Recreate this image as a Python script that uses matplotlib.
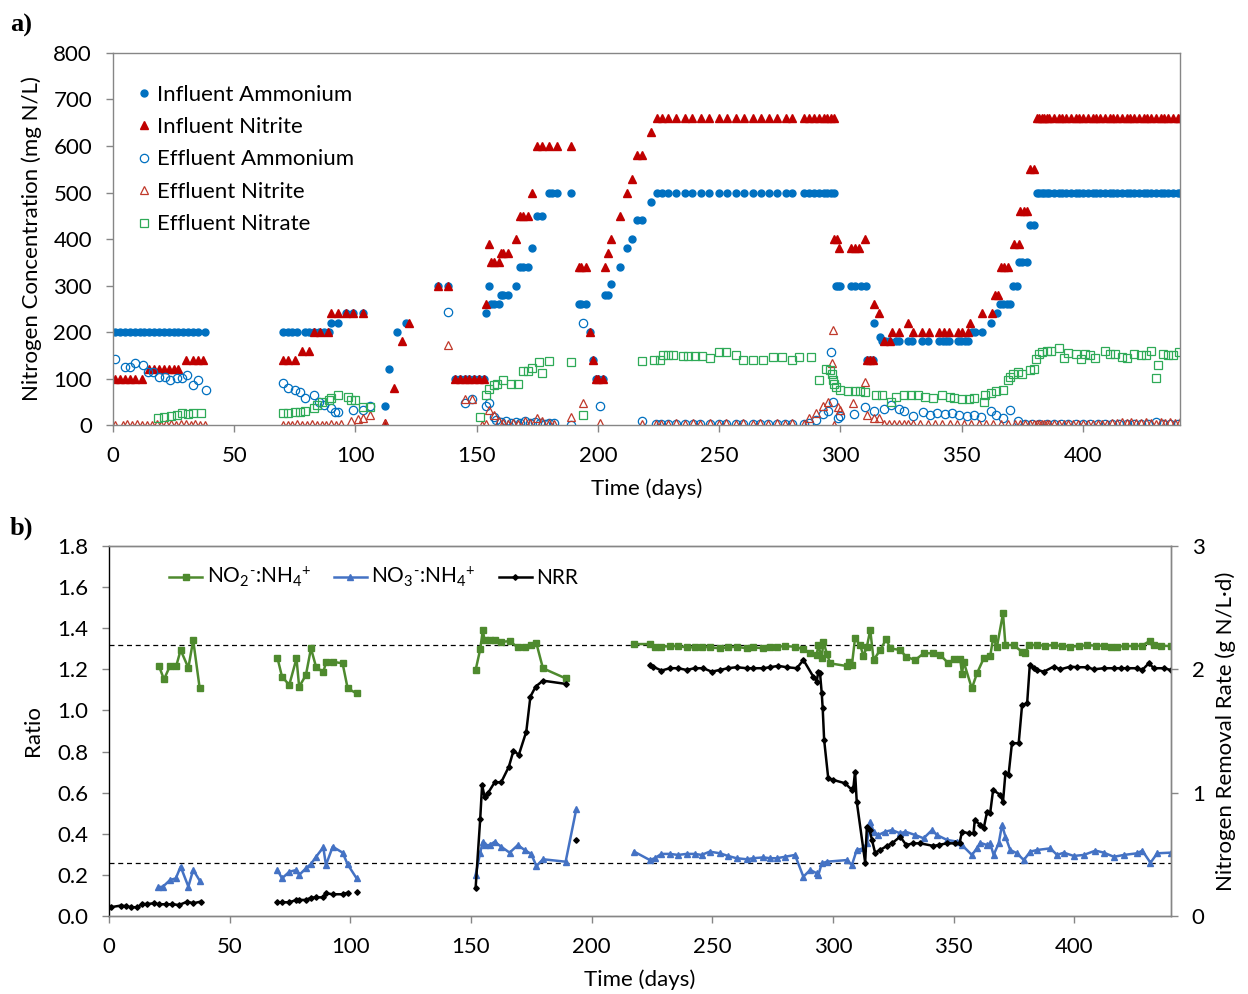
import numpy as np
import matplotlib
matplotlib.use("Agg")
import matplotlib.pyplot as plt
from matplotlib import rcParams

rcParams['font.family'] = ['Lato', 'DejaVu Sans']
rcParams['mathtext.fontset'] = 'custom'
rcParams['mathtext.rm'] = 'Lato'
rcParams['mathtext.it'] = 'Lato:italic'
rcParams['mathtext.bf'] = 'Lato:bold'
rcParams['axes.unicode_minus'] = False

# ---- panel a : concentrations (mg N/L) ----
inf_amm_days = [1, 3, 5, 7, 9, 11, 13, 15, 17, 19, 21, 23, 25, 27, 29, 31, 33, 35, 38,
                70, 72, 74, 76, 79, 81, 83, 85, 87, 89, 90, 93, 96, 99, 103,
                112, 114, 117, 121, 134, 138, 141, 143, 145, 147, 149, 151, 153,
                154, 155, 156, 157, 159, 160, 161, 163, 166, 168, 169, 171, 173, 175, 177, 180, 181, 183, 189,
                192, 193, 195, 196.6, 198, 199, 200, 202, 203, 204, 205.5, 209, 212, 214, 216, 218, 222,
                224.4, 226.5, 228.8, 232, 236, 238.9, 242.3, 245.8, 249.9, 253.3, 256.8, 260.2, 264.1,
                267.1, 270.5, 274, 277.4, 280.1, 284.9, 287, 289, 291.1, 293.2, 294.6, 296, 297.3,
                298, 299, 300, 304.2, 306, 308.3, 310.4, 311, 312, 313.5, 314, 316.5, 317, 318.5, 320,
                322.8, 324.2, 327.9, 329.7, 333.8, 335.9, 340.7, 342.1, 343.4, 344.8, 348.3, 349.6, 351.3, 352.4,
                354.2, 355.5, 358.3, 362, 364.5, 365.7, 367, 368.5, 370, 371, 372.7, 373.5, 375, 377, 378, 380,
                381, 382, 383, 384, 385, 386, 388, 390, 391.5, 393, 395, 397, 398.5, 400,
                402, 404, 405.5, 407, 409, 411, 412.5, 414, 416, 418, 419.5, 421, 423, 425, 426.5, 428,
                430, 432, 433.5, 435, 437, 439, 440]
inf_amm = [200, 200, 200, 200, 200, 200, 200, 200, 200, 200, 200, 200, 200, 200, 200, 200, 200, 200, 200,
           200, 200, 200, 200, 200, 200, 200, 200, 200, 200, 220, 220, 240, 240, 240,
           40, 120, 200, 220, 300, 300, 100, 100, 100, 100, 100, 100, 100,
           240, 300, 260, 260, 260, 280, 280, 280, 300, 340, 340, 340, 380, 450, 450, 500, 500, 500, 500,
           260, 260, 260, 200, 140, 100, 100, 100, 280, 280, 303, 340, 380, 400, 440, 440, 480,
           500, 500, 500, 500, 500, 500, 500, 500, 500, 500, 500, 500, 500,
           500, 500, 500, 500, 500, 500, 500, 500, 500, 500, 500, 500, 500,
           300, 300, 300, 300, 300, 300, 300, 140, 140, 140, 220, 190, 180, 180, 180,
           180, 180, 180, 180, 180, 180, 180, 180, 180, 180, 180, 180, 180, 180,
           200, 200, 200, 220, 240, 260, 260, 260, 260, 300, 300, 350, 350, 350, 430, 430,
           500, 500, 500, 500, 500, 500, 500, 500, 500, 500, 500, 500, 500, 500,
           500, 500, 500, 500, 500, 500, 500, 500, 500, 500, 500, 500, 500, 500, 500, 500,
           500, 500, 500, 500, 500, 500, 500]

inf_nit_days = [1, 3, 5, 7, 9, 12, 15, 17, 19, 21, 23, 25, 27, 30, 33, 35, 37,
                70, 72, 75, 78, 81, 83, 85.5, 88.5, 90, 93, 96, 99, 103,
                112, 116, 119, 122, 134, 138, 141, 143, 145, 147, 149, 151, 153,
                154, 155, 156, 157, 159, 160, 161, 163, 166, 168, 169, 171, 173, 175, 177, 180, 183, 189,
                192, 193, 195, 196.6, 198, 199, 200, 202, 203, 204, 205.5, 209, 212, 214, 216, 218, 222,
                224.4, 226.5, 228.8, 232, 236, 238.9, 242.3, 245.8, 249.9, 253.3, 256.8, 260.2, 264.1,
                267.1, 270.5, 274, 277.4, 280.1, 284.9, 287, 289, 291.1, 293.2, 294.6, 296, 297.3,
                297.5, 298.5, 299.5, 304.5, 306, 307.5, 310, 311, 312, 313.5, 314, 316, 318, 320.5,
                321.4, 324.2, 327.9, 330.1, 333.8, 336.6, 340.7, 342.8, 344.8, 348.3, 350.3, 352.4, 353.5,
                358.3, 362.4, 363.7, 365, 366, 367.5, 369, 371.5, 373.5, 374, 375.5, 377, 378, 380,
                381, 382, 383, 384, 385, 386, 388, 390, 391.5, 393, 395, 397, 398.5, 400,
                402, 404, 405.5, 407, 409, 411, 412.5, 414, 416, 418, 419.5, 421, 423, 425, 426.5, 428,
                430, 432, 433.5, 435, 437, 439, 440]
inf_nit = [100, 100, 100, 100, 100, 100, 120, 120, 120, 120, 120, 120, 120, 140, 140, 140, 140,
           140, 140, 140, 160, 160, 200, 200, 200, 240, 240, 240, 240, 240,
           4, 80, 180, 220, 300, 300, 100, 100, 100, 100, 100, 100, 100,
           260, 390, 350, 350, 350, 370, 370, 370, 400, 450, 450, 450, 500, 600, 600, 600, 600, 600,
           340, 340, 340, 200, 140, 100, 100, 100, 340, 370, 400, 450, 500, 530, 580, 580, 630,
           660, 660, 660, 660, 660, 660, 660, 660, 660, 660, 660, 660, 660,
           660, 660, 660, 660, 660, 660, 660, 660, 660, 660, 660, 660, 660,
           400, 400, 380, 380, 380, 380, 400, 140, 140, 140, 260, 240, 180, 180,
           200, 200, 220, 200, 200, 200, 200, 200, 200, 200, 200, 200, 220,
           240, 240, 280, 280, 340, 340, 340, 390, 390, 460, 460, 460, 550, 550,
           660, 660, 660, 660, 660, 660, 660, 660, 660, 660, 660, 660, 660, 660,
           660, 660, 660, 660, 660, 660, 660, 660, 660, 660, 660, 660, 660, 660, 660, 660,
           660, 660, 660, 660, 660, 660, 660]

eff_amm_days = [1, 5, 7, 9, 12.4, 14.4, 16.5, 19, 21.5, 23.5, 26.4, 28.5, 30.5, 33, 35, 38.4,
                70, 72, 75, 77, 79, 83, 85, 87, 90, 91.5, 93, 99, 103, 106,
                138, 145, 148, 154, 155, 157, 158, 160, 162, 164, 166, 168, 170, 172, 174, 176, 178, 180, 182,
                189, 194, 201, 218,
                224, 226, 229, 232, 236, 239, 242, 246, 250, 253, 257, 260, 264, 267, 270, 274, 277, 280,
                285, 287, 290, 293, 295, 296, 297, 299, 300,
                305.5, 310, 314, 318, 321, 324, 326, 330, 334, 337, 340, 343, 346, 349, 352, 355, 358,
                362, 364, 367, 370, 373,
                376, 379, 382, 385, 388, 391, 394, 397, 400, 403, 406, 409, 412, 415, 418, 421, 424,
                427, 430, 433, 436, 439]
eff_amm = [142, 125, 125, 133, 129, 114, 114, 103, 103, 97, 101, 101, 108, 86, 97, 75,
           90, 80, 75, 71, 58, 64, 49, 43, 36, 28, 28, 32, 32, 41,
           243, 47, 57, 41, 47, 17, 10, 6, 8, 5, 6, 4, 8, 5, 6, 4, 3, 5, 4,
           0, 220, 41, 8,
           3, 2, 3, 2, 3, 2, 3, 2, 3, 2, 3, 2, 3, 2, 3, 2, 3, 2,
           3, 5, 10, 23, 30, 158, 50, 15, 20,
           24, 38, 30, 35, 43, 35, 30, 20, 27, 22, 25, 23, 25, 22, 20, 22, 18,
           30, 22, 15, 33, 8,
           2, 2, 2, 2, 2, 2, 2, 2, 2, 2, 2, 2, 2, 2, 2, 2, 2,
           2, 6, 2, 2, 2]

eff_nit_days = [1, 4, 6, 8, 10, 12, 14, 16, 18, 20, 22, 24, 26, 28, 30, 32, 34, 36, 38,
                70, 72, 74, 76, 78, 80, 82, 84, 86, 88, 90, 92, 94, 98, 101, 103, 106,
                112, 138, 145, 148, 152, 154, 155, 157, 159, 161, 163, 165, 167, 170, 172, 175, 177, 180, 182,
                189, 194, 201, 218,
                224, 226, 229, 232, 236, 239, 242, 246, 250, 253, 257, 260, 264, 267, 270, 274, 277, 280,
                285, 287, 290, 293, 295, 296.5, 297, 297.5, 299, 300,
                305, 310, 311, 314, 316, 318, 320, 322, 324, 326, 328, 330,
                333, 336, 339, 342, 345, 348, 351, 354, 357, 360, 363, 366, 369, 372,
                374, 376, 378, 380, 381, 382, 383, 384, 385, 386,
                388, 390, 392, 394, 396, 398, 400, 402, 404, 406, 408, 410, 412, 414,
                416, 418, 420, 422, 424, 426, 428, 430, 432, 434, 436, 438, 440]
eff_nit = [0, 0, 2, 0, 3, 0, 0, 0, 3, 0, 2, 2, 0, 3, 2, 0, 2, 0, 0,
           0, 0, 0, 2, 0, 0, 2, 0, 0, 0, 2, 0, 2, 8, 12, 15, 22,
           2, 172, 57, 57, 0, 3, 32, 22, 8, 5, 3, 5, 3, 8, 5, 15, 8, 5, 3,
           17, 48, 5, 3,
           3, 2, 3, 4, 3, 4, 3, 4, 3, 4, 3, 5, 3, 4, 3, 4, 3, 4,
           3, 15, 25, 40, 50, 133, 205, 0, 38, 33,
           47, 93, 22, 15, 15, 2, 2, 3, 2, 2, 2, 3,
           2, 2, 3, 2, 2, 2, 3, 2, 2, 3, 2, 2, 3, 2,
           2, 3, 2, 2, 2, 2, 2, 2, 2, 2,
           2, 2, 2, 2, 2, 3, 2, 2, 2, 3, 2, 3, 5, 4,
           6, 5, 7, 5, 4, 6, 5, 3, 6, 4, 7, 5, 6]

eff_nitrate_days = [18.5, 21, 24, 26.5, 28.5, 31, 33, 36.5,
                    70, 72, 75, 77, 79, 83, 84, 86, 89, 90, 93, 97, 98, 100, 103, 106,
                    151.5, 154, 155, 157, 158.5, 161, 164, 167, 169, 171, 173, 175.5, 177, 180, 189, 194,
                    218, 223, 225.5, 227, 229, 231, 235, 237, 240, 243, 246, 250, 253, 257, 260, 264, 268,
                    272, 276, 280, 283, 288, 291, 294, 295.5, 296.5, 297, 297.5, 298, 300, 303, 306, 308, 310,
                    314.5, 317, 321, 323, 326, 329, 332, 335, 338, 342, 345, 347, 350, 353, 355, 359, 359.5,
                    362, 364, 367, 369, 370, 371, 373, 375, 378, 380, 380.5, 382, 383, 385, 387, 390, 392,
                    394, 397, 399, 401, 403, 405, 409, 411, 413, 416, 418, 421, 424, 426, 428, 430, 431,
                    433, 435, 437, 439.5]
eff_nitrate = [15, 17, 20, 21, 25, 23, 25, 25,
               26, 26, 28, 28, 30, 36, 43, 49, 54, 58, 64, 60, 54, 54, 39, 39,
               17, 64, 78, 86, 89, 96, 89, 89, 116, 116, 122, 136, 111, 137, 136, 22,
               137, 139, 139, 150, 150, 150, 148, 148, 148, 148, 145, 157, 157, 150, 140, 140, 140,
               146, 146, 140, 147, 147, 96, 120, 118, 110, 96, 88, 81, 76, 73, 73, 73, 70,
               64, 65, 50, 60, 65, 65, 64, 60, 58, 64, 60, 58, 55, 55, 58, 50, 64,
               69, 73, 76, 96, 103, 110, 114, 110, 118, 120, 143, 153, 156, 160, 160, 165, 145,
               155, 152, 143, 153, 150, 145, 160, 152, 153, 147, 145, 152, 150, 150, 160, 101, 130,
               153, 150, 150, 157]

# ---- panel b : ratios and NRR ----
nan = np.nan
no2_days = [20.7, 22.8, 25.3, 27.9, 29.7, 32.9, 34.9, 37.6, nan,
            69.8, 71.7, 74.7, 77.7, 78.8, 81.6, 83.7, 85.8, 88.8, 89.9, 92.7, 96.8, 98.9, 102.6, nan,
            151.9, 153.8, 154.9, 155.6, 157.7, 159.8, 162.5, 166, 169.4, 172.2, 174.9, 177.1, 179.8, 189.2, nan,
            217.6, 224.1, 226.1, 228.9, 232.4, 235.8, 239.3, 242.7, 245.5, 248.9, 253.1, 256.5, 260,
            264.2, 266.9, 271.1, 273.9, 276.6, 280.1, 284.2, 287.7, 290.5, 293.2, 293.9, 295.3, 296,
            297.4, 298.8, 305.7, 306.4, 307.8, 309.1, 311.2, 312.6, 314, 315.4, 316.8, 319.5, 322,
            323.7, 327.8, 330.3, 334, 337.5, 341.6, 344.4, 347.8, 349.9, 352.7, 353.4, 354.1, 357.5,
            359.6, 362.4, 365.1, 366.3, 367.9, 370.4, 371.4, 374.8, 378.3, 379.7, 381.1, 384.5, 388,
            391.4, 395, 398.3, 402, 405.3, 409, 412.2, 415, 417.7, 421, 424.6, 428, 431.3, 432.9, 436, 439.8]
no2_ratio = [1.217, 1.151, 1.217, 1.217, 1.294, 1.207, 1.342, 1.107, nan,
             1.256, 1.164, 1.124, 1.253, 1.115, 1.172, 1.302, 1.212, 1.185, 1.234, 1.237, 1.229, 1.107, 1.083, nan,
             1.196, 1.297, 1.391, 1.342, 1.342, 1.342, 1.334, 1.337, 1.307, 1.307, 1.318, 1.326, 1.205, 1.156, nan,
             1.323, 1.323, 1.310, 1.310, 1.313, 1.313, 1.307, 1.307, 1.310, 1.307, 1.302, 1.307, 1.310,
             1.302, 1.307, 1.302, 1.307, 1.310, 1.313, 1.310, 1.297, 1.281, 1.270, 1.318, 1.254, 1.334,
             1.277, 1.229, 1.216, 1.237, 1.221, 1.351, 1.318, 1.265, 1.310, 1.391, 1.245, 1.294, 1.346,
             1.302, 1.294, 1.261, 1.245, 1.278, 1.278, 1.270, 1.229, 1.248, 1.248, 1.177, 1.237, 1.107,
             1.180, 1.253, 1.264, 1.351, 1.310, 1.472, 1.318, 1.318, 1.285, 1.280, 1.318, 1.318, 1.315,
             1.318, 1.313, 1.310, 1.313, 1.318, 1.315, 1.315, 1.310, 1.310, 1.313, 1.313, 1.315, 1.339, 1.318, 1.315, 1.313]

no3_days = [20.5, 22.4, 25.3, 27.7, 29.7, 32.9, 34.9, 37.6, nan,
            69.8, 71.7, 74.7, 77.7, 78.8, 81.6, 83.7, 85.8, 88.8, 89.9, 92.7, 96.8, 98.9, 102.6, nan,
            151.9, 153.8, 154.9, 155.6, 157.7, 159.8, 162.5, 166, 169.4, 172.2, 174.9, 177.1, 179.8, 189.2, 193.6, nan,
            217.6, 224.1, 226.1, 228.9, 232.4, 235.8, 239.3, 242.7, 245.5, 248.9, 253.1, 256.5, 260,
            264.2, 266.9, 271.1, 273.9, 276.6, 280.1, 284.2, 287.7, 290.5, 293.2, 293.9, 295.3, 297.4,
            305.7, 307.8, 309.8, 312.6, 314, 315.4, 316.8, 318.8, 321.6, 324.4, 327.8, 330, 334, 337.5,
            341, 343, 347.2, 351.3, 353.4, 357.5, 359.6, 361, 363.8, 365.1, 366.5, 368.6, 370, 371.4,
            373.4, 376.2, 379, 381.7, 384.5, 390, 392.8, 395.6, 399.7, 403.9, 408.7, 412.2, 416.3,
            420.5, 426, 428.1, 431.5, 434.3, 439.8]
no3_ratio = [0.140, 0.143, 0.175, 0.183, 0.240, 0.143, 0.224, 0.172, nan,
             0.224, 0.183, 0.215, 0.224, 0.199, 0.232, 0.253, 0.288, 0.334, 0.248, 0.337, 0.308, 0.251, 0.183, nan,
             0.199, 0.308, 0.361, 0.345, 0.345, 0.361, 0.337, 0.308, 0.345, 0.321, 0.302, 0.243, 0.276, 0.264, 0.519, nan,
             0.313, 0.272, 0.281, 0.302, 0.302, 0.297, 0.302, 0.302, 0.297, 0.313, 0.305, 0.292, 0.281,
             0.276, 0.281, 0.285, 0.281, 0.281, 0.288, 0.297, 0.191, 0.224, 0.208, 0.199, 0.256, 0.264,
             0.272, 0.248, 0.321, 0.329, 0.353, 0.459, 0.410, 0.394, 0.410, 0.418, 0.402, 0.410, 0.394, 0.378,
             0.418, 0.394, 0.370, 0.362, 0.345, 0.297, 0.329, 0.356, 0.345, 0.353, 0.297, 0.353, 0.443, 0.386,
             0.321, 0.305, 0.272, 0.313, 0.321, 0.329, 0.297, 0.308, 0.292, 0.297, 0.318, 0.308, 0.288,
             0.297, 0.305, 0.318, 0.259, 0.305, 0.308]

nrr_days = [0.7, 4.8, 6.9, 9, 11.7, 13.8, 15.9, 18.7, 20.7, 23.5, 26.3, 29, 32.5, 34.9, 38, nan,
            69.8, 71.7, 74.7, 77.7, 78.8, 81.6, 83.7, 85.8, 88.8, 89.9, 92.7, 96.8, 98.9, nan,
            102.6, nan,
            151.9, 153.8, 154.6, 155.6, 157, 159.8, 162.5, 165.7, 167.6, 169.8, 172.9, 174.6, 176.8, 179.8, 189.2, nan,
            193.6, nan,
            224.1, 225.4, 228.9, 232.4, 235.8, 239.3, 242.7, 246.2, 249.7, 253.1, 256.5, 260, 264.2,
            266.9, 271.1, 273.9, 277.3, 280.8, 285, 287.7, 291.8, 293.2, 293.9, 294.6, 295.3, 295.7,
            296.3, 298, 300.1, 305, 307.8, 308.4, 309.1, 309.8, 313.3, 314, 315.1, 316.1, 317.4, 319.5,
            322.3, 324.4, 327.8, 330.3, 333.3, 336.1, 341.6, 343.7, 347.2, 350.6, 352.4, 353.4, 356.2,
            358.2, 358.7, 361, 362.4, 363.8, 365.1, 366.3, 369.3, 370.4, 371.4, 372.7, 374.1, 376.9,
            378.3, 380.4, 381.5, 383.1, 384.5, 387.3, 391.4, 394.2, 398.3, 401.1, 405.3, 408, 412.2,
            416.3, 419.1, 421.9, 426, 428.1, 430.8, 432.9, 437.1, 439.8]
nrr = [0.071, 0.084, 0.081, 0.071, 0.071, 0.097, 0.097, 0.103, 0.095, 0.095, 0.095, 0.089, 0.116, 0.103, 0.116, nan,
       0.111, 0.111, 0.111, 0.130, 0.130, 0.130, 0.148, 0.151, 0.151, 0.184, 0.176, 0.176, 0.189, nan,
       0.195, nan,
       0.225, 0.784, 1.062, 0.968, 0.995, 1.084, 1.084, 1.211, 1.341, 1.306, 1.495, 1.779, 1.86, 1.908, 1.882, nan,
       0.616, nan,
       2.036, 2.022, 1.99, 2.009, 2.009, 1.995, 2.009, 2.009, 1.981, 1.995, 2.009, 2.017, 2.009,
       2.009, 2.009, 2.017, 2.028, 2.017, 2.009, 2.076, 1.941, 1.9, 1.981, 1.968, 1.806, 1.684,
       1.427, 1.116, 1.103, 1.076, 1.022, 1.036, 1.171, 0.928, 0.433, 0.725, 0.698, 0.616, 0.513, 0.535,
       0.568, 0.589, 0.643, 0.576, 0.589, 0.589, 0.568, 0.576, 0.589, 0.589, 0.589, 0.684, 0.67,
       0.67, 0.778, 0.738, 0.711, 0.845, 0.837, 1.022, 0.981, 0.927, 1.157, 1.143, 1.401, 1.401,
       1.71, 1.724, 2.035, 2.008, 1.995, 1.981, 2.022, 2.0, 2.022, 2.017, 2.017, 2.0, 2.009,
       2.009, 2.009, 2.009, 2.009, 1.995, 2.049, 2.009, 2.009, 1.995]

stoich_no2 = 1.32
stoich_no3 = 0.26

# ---- style ----
BLUE = '#0070C0'
RED = '#C00000'
GREEN_OPEN = '#2EAA57'
GREEN_LINE = '#4E8A2E'
BLUE_LINE = '#4472C4'
SPINE = '#868686'
FS = 16

fig = plt.figure(figsize=(12.48, 9.94), dpi=100)
ax1 = fig.add_axes([0.0905, 0.5724, 0.855, 0.3743])
ax2 = fig.add_axes([0.0873, 0.0785, 0.8510, 0.3722])

# panel a
ax1.plot(inf_amm_days, inf_amm, 'o', color=BLUE, ms=5, ls='none', label='Influent Ammonium')
ax1.plot(inf_nit_days, inf_nit, '^', color=RED, ms=6, ls='none', label='Influent Nitrite')
ax1.plot(eff_amm_days, eff_amm, 'o', mfc='none', mec=BLUE, mew=0.9, ms=6, ls='none', label='Effluent Ammonium')
ax1.plot(eff_nit_days, eff_nit, '^', mfc='none', mec='#C0392B', mew=0.9, ms=6, ls='none', label='Effluent Nitrite')
ax1.plot(eff_nitrate_days, eff_nitrate, 's', mfc='none', mec=GREEN_OPEN, mew=0.9, ms=5.5, ls='none', label='Effluent Nitrate')

ax1.set_xlim(0, 440)
ax1.set_ylim(0, 800)
ax1.set_xticks(np.arange(0, 401, 50))
ax1.set_yticks(np.arange(0, 801, 100))
ax1.set_xlabel('Time (days)', fontsize=FS, labelpad=9)
ax1.set_ylabel('Nitrogen Concentration (mg N/L)', fontsize=FS, labelpad=8)
ax1.legend(loc='upper left', bbox_to_anchor=(0.0, 0.975), frameon=False, fontsize=FS,
           handlelength=0.8, handletextpad=0.2, labelspacing=0.56, borderaxespad=0.6)

# panel b
ax2.axhline(stoich_no2, color='black', ls=(0, (4, 3)), lw=0.9, zorder=1)
ax2.axhline(stoich_no3, color='black', ls=(0, (4, 3)), lw=0.9, zorder=1)
l1, = ax2.plot(no2_days, no2_ratio, '-s', color=GREEN_LINE, ms=4.5, lw=1.8,
               label=r'NO$_2$$^{\text{-}}$:NH$_4$$^{+}$')
l2, = ax2.plot(no3_days, no3_ratio, '-^', color=BLUE_LINE, ms=4, lw=1.8,
               label=r'NO$_3$$^{\text{-}}$:NH$_4$$^{+}$')
ax2.set_xlim(0, 440)
ax2.set_ylim(0, 1.8)
ax2.set_xticks(np.arange(0, 401, 50))
ax2.set_yticks(np.arange(0, 1.81, 0.2))
ax2.set_yticklabels([f'{v:.1f}' for v in np.arange(0, 1.81, 0.2)])
ax2.set_xlabel('Time (days)', fontsize=FS, labelpad=9)
ax2.set_ylabel('Ratio', fontsize=FS, labelpad=10)

ax3 = ax2.twinx()
l3, = ax3.plot(nrr_days, nrr, '-D', color='black', ms=2.8, lw=1.8, label='NRR')
ax3.set_ylim(0, 3)
ax3.set_yticks([0, 1, 2, 3])
ax3.set_ylabel('Nitrogen Removal Rate (g N/L\u00b7d)', fontsize=FS, labelpad=8)

ax2.legend(handles=[l1, l2, l3], loc='upper left', bbox_to_anchor=(0.039, 0.999), ncol=3,
           frameon=False, fontsize=15, handlelength=1.6, handletextpad=0.2, columnspacing=1.1)

for ax in (ax1, ax2, ax3):
    for s in ax.spines.values():
        s.set_color(SPINE)
        s.set_linewidth(1.0)
    ax.tick_params(labelsize=FS, color=SPINE, length=5, width=1.0, direction='out', pad=10)
ax2.spines['left'].set_color('black')
ax3.spines['left'].set_visible(False)

fig.text(0.008, 0.968, 'a)', fontsize=19, fontweight='bold', family='Liberation Serif')
fig.text(0.008, 0.462, 'b)', fontsize=19, fontweight='bold', family='Liberation Serif')

plt.savefig('out.png', dpi=100)
plt.close()
